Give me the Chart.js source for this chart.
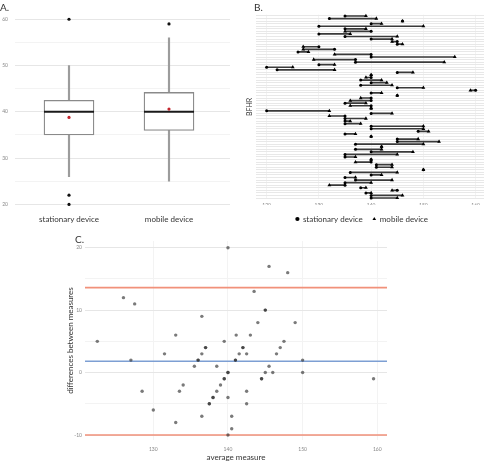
<!DOCTYPE html>
<html><head><meta charset="utf-8">
<script src="https://cdn.jsdelivr.net/npm/chart.js@4.4.1/dist/chart.umd.min.js"></script>
<style>
html,body{margin:0;padding:0;background:#fff;}
#wrap{position:relative;width:484px;height:461px;overflow:hidden;font-family:Lato,'Open Sans',sans-serif;}
canvas{position:absolute;}
.lbl{position:absolute;font-size:10px;color:#333;font-family:Lato,'Open Sans',sans-serif;}
</style></head><body>
<div id="wrap">
<canvas id="cA" width="240" height="235" style="left:0;top:0"></canvas>
<canvas id="cB" width="244" height="235" style="left:240px;top:0"></canvas>
<canvas id="cC" width="484" height="226" style="left:0;top:235px"></canvas>
<div class="lbl" style="left:0;top:1px">A.</div>
<div class="lbl" style="left:254px;top:1px">B.</div>
<div class="lbl" style="left:75px;top:233px">C.</div>
</div>
<script>
// ---------- Panel A: boxplot ----------
const categories = ['stationary device', 'mobile device'];
const boxLower = [35, 36];
const boxUpper = [42.5, 44.2];
const medians = [40, 40];
const whiskerLow = [26, 25];
const whiskerHigh = [50, 56];
const means = [38.8, 40.6];
const outliersStationary = [60, 22, 20];
const outliersMobile = [59];
const yTicksA = [20, 25, 30, 35, 40, 45, 50, 55, 60];

// ---------- Panel B: paired values per subject (BFHR) ----------
const stationary = [135,132,146,140,130,135,140,130,135,140,145,145,130,133,126,140,140,137,137,130,120,122,145,140,140,138,140,138,145,160,140,145,140,140,135,140,140,120,140,135,135,135,135,140,140,149,135,140,145,145,137,142,137,140,135,135,140,140,141,141,150,136,140,135,137,135,135,138,145,139,140,140];
const mobile = [139,141,146,142,150,139,135,136,145,144,144,146,127,127,128,133,156,129,154,133,125,133,148,140,139,142,143,144,150,159,142,145,138,136,139,136,140,132,144,132,139,136,138,150,150,151,137,140,149,153,150,142,142,148,145,137,140,137,144,144,150,145,142,137,144,140,132,139,144,140,146,145];
const xTicksB = [120, 130, 140, 150, 160];

// ---------- Panel C: Bland-Altman ----------
const avgMeasure = [140,126,127.5,136.5,122.5,133,139.5,141.1,143,137,137,142,142,131.5,136.5,141.5,142.5,127,136,136,141,141,135.5,138.5,140,140,139.5,139.5,134,139,128.5,133.5,138.5,142.5,138,138,140,137.5,137.5,142.5,130,136.5,140.5,133,140.5,140,145.5,148,143.5,145,145,144,149,147.5,147,146.5,150,145.5,145,146,150,144.5,144.5,159.5];
const diffMeasure = [20,12,11,9,5,6,5,6,6,4,4,4,4,3,3,3,3,2,2,2,2,2,1,1,0,0,-1,-1,-2,-2,-3,-3,-3,-3,-4,-4,-4,-5,-5,-5,-6,-7,-7,-8,-9,-10,17,16,13,10,10,8,8,5,4,3,2,1,0,0,0,-1,-1,-1];
const meanDiff = 1.8;
const upperLimit = 13.6;
const lowerLimit = -10.0;
const xTicksC = [130, 140, 150, 160];
const yTicksC = [-10, -5, 0, 5, 10, 15, 20];

const FONT = "Lato, 'Open Sans', sans-serif";
Chart.defaults.font.family = FONT;
Chart.defaults.animation = false;
Chart.defaults.plugins.legend.display = false;
Chart.defaults.plugins.tooltip.enabled = false;

const gridColor = c => (c.tick && c.tick.value % 10 === 0) ? '#e6e6e6' : '#f3f3f3';

// Panel A
const posA = categories.map((c, i) => i + 1);
new Chart(document.getElementById('cA'), {
  type: 'bar',
  data: {
    datasets: [
      { label: 'whisker', data: posA.map((p, i) => ({ x: p, y: [whiskerLow[i], whiskerHigh[i]] })),
        backgroundColor: '#9c9c9c', barThickness: 1.5, grouped: false, order: 4 },
      { label: 'box', data: posA.map((p, i) => ({ x: p, y: [boxLower[i], boxUpper[i]] })),
        backgroundColor: '#ffffff', borderColor: '#8a8a8a', borderWidth: 1.3, borderSkipped: false,
        barThickness: 50, grouped: false, order: 3 },
      { type: 'line', label: 'median', data: posA.map((p, i) => ({ x: p, y: medians[i] })),
        showLine: false, pointStyle: 'line', pointRadius: 25, borderColor: '#1a1a1a', pointBorderWidth: 2, order: 2 },
      { type: 'line', label: 'outliers',
        data: outliersStationary.map(v => ({ x: 1, y: v })).concat(outliersMobile.map(v => ({ x: 2, y: v }))),
        showLine: false, pointRadius: 1.6, backgroundColor: '#111', borderColor: '#111', pointBorderWidth: 0, order: 1 },
      { type: 'line', label: 'mean', data: posA.map((p, i) => ({ x: p, y: means[i] })),
        showLine: false, pointRadius: 1.6, backgroundColor: '#c4262e', borderColor: '#c4262e', pointBorderWidth: 0, order: 0 }
    ]
  },
  options: {
    responsive: false, devicePixelRatio: 1,
    layout: { autoPadding: false, padding: { left: 0, right: 10, top: 6.3, bottom: 6.3 } },
    scales: {
      x: { type: 'linear', min: 0.46, max: 2.61, offset: false,
        afterBuildTicks: s => { s.ticks = posA.map(v => ({ value: v })); },
        ticks: { callback: v => categories[v - 1], font: { size: 8, family: FONT }, color: '#333', padding: 1, autoSkip: false, maxRotation: 0 },
        grid: { display: false, drawTicks: false }, border: { display: false },
        afterFit: s => { s.height = 15; } },
      y: { min: 18, max: 62,
        afterBuildTicks: s => { s.ticks = yTicksA.map(v => ({ value: v })); },
        ticks: { callback: v => (v % 10 === 0 ? v : ''), font: { size: 5 }, color: '#888', padding: 7 },
        grid: { color: gridColor, drawTicks: false }, border: { display: false },
        afterFit: s => { s.width = 15; } }
    }
  }
});

// Panel B
const rowIds = stationary.map((_, i) => String(i + 1));
new Chart(document.getElementById('cB'), {
  type: 'bar',
  data: {
    labels: rowIds,
    datasets: [
      { label: 'pair', data: stationary.map((s, i) => [s, mobile[i]]), indexAxis: 'y',
        backgroundColor: '#3a3a3a', barThickness: 1, grouped: false, order: 2 },
      { type: 'line', label: 'stationary device', data: stationary, indexAxis: 'y', showLine: false,
        pointStyle: 'circle', pointRadius: 1.5, backgroundColor: '#000', borderColor: '#000', pointBorderWidth: 0, order: 1 },
      { type: 'line', label: 'mobile device', data: mobile, indexAxis: 'y', showLine: false,
        pointStyle: 'triangle', pointRadius: 2.2, backgroundColor: '#000', borderColor: '#000', pointBorderWidth: 0, order: 0 }
    ]
  },
  options: {
    responsive: false, devicePixelRatio: 1, indexAxis: 'y',
    layout: { autoPadding: false, padding: { left: 0, right: 0, top: 14.7, bottom: 2 } },
    plugins: {
      legend: { display: true, position: 'bottom',
        labels: { usePointStyle: true, boxWidth: 3, boxHeight: 3, padding: 10, color: '#333',
          font: { size: 8, family: FONT }, filter: it => it.datasetIndex > 0,
          sort: (a, b) => a.datasetIndex - b.datasetIndex } }
    },
    scales: {
      x: { type: 'linear', min: 118, max: 161.6,
        afterBuildTicks: s => { s.ticks = xTicksB.map(v => ({ value: v })); },
        ticks: { font: { size: 5 }, color: '#888', padding: 3 },
        grid: { color: '#f3f3f3', drawTicks: false }, border: { display: false },
        afterFit: s => { s.height = 5.7; } },
      y: { type: 'category', offset: true,
        ticks: { display: false },
        grid: { offset: false, color: '#e8e8e8', drawTicks: false }, border: { display: false },
        title: { display: true, text: 'BFHR', color: '#333', font: { size: 7, family: FONT }, padding: { top: 6, bottom: 0 } },
        afterFit: s => { s.width = 16.2; } }
    }
  }
});

// Panel C
const xMinC = 120.85, xMaxC = 161.3;
const hLine = (v, col) => ({ type: 'line', data: [{ x: xMinC, y: v }, { x: xMaxC, y: v }],
  borderColor: col, borderWidth: 1.6, pointRadius: 0, order: 1 });
new Chart(document.getElementById('cC'), {
  type: 'scatter',
  data: {
    datasets: [
      { label: 'subjects', data: avgMeasure.map((a, i) => ({ x: a, y: diffMeasure[i] })),
        pointRadius: 1.7, backgroundColor: 'rgba(40,40,40,0.62)', borderColor: 'rgba(0,0,0,0)', pointBorderWidth: 0, order: 0 },
      Object.assign(hLine(upperLimit, '#f1917a'), { label: 'upper limit' }),
      Object.assign(hLine(meanDiff, '#7d9fd3'), { label: 'mean difference' }),
      Object.assign(hLine(lowerLimit, '#f1917a'), { label: 'lower limit' })
    ]
  },
  options: {
    responsive: false, devicePixelRatio: 1,
    layout: { autoPadding: false, padding: { left: 62, right: 97, top: 5, bottom: 0 } },
    scales: {
      x: { type: 'linear', min: xMinC, max: xMaxC,
        afterBuildTicks: s => { s.ticks = xTicksC.map(v => ({ value: v })); },
        ticks: { font: { size: 5 }, color: '#888', padding: 6 },
        grid: { color: '#f3f3f3', drawTicks: false }, border: { display: false },
        title: { display: true, text: 'average measure', color: '#333', font: { size: 8, family: FONT, lineHeight: 1 }, padding: 0 },
        afterFit: s => { s.height = 21; } },
      y: { min: -10.8, max: 21.07,
        afterBuildTicks: s => { s.ticks = yTicksC.map(v => ({ value: v })); },
        ticks: { callback: v => (v % 10 === 0 ? v : ''), font: { size: 5 }, color: '#888', padding: 3 },
        grid: { color: gridColor, drawTicks: false }, border: { display: false },
        title: { display: true, text: 'differences between measures', color: '#333', font: { size: 8, family: FONT }, padding: { top: 4, bottom: 0 } },
        afterFit: s => { s.width = 23; } }
    }
  }
});
</script>
</body></html>
